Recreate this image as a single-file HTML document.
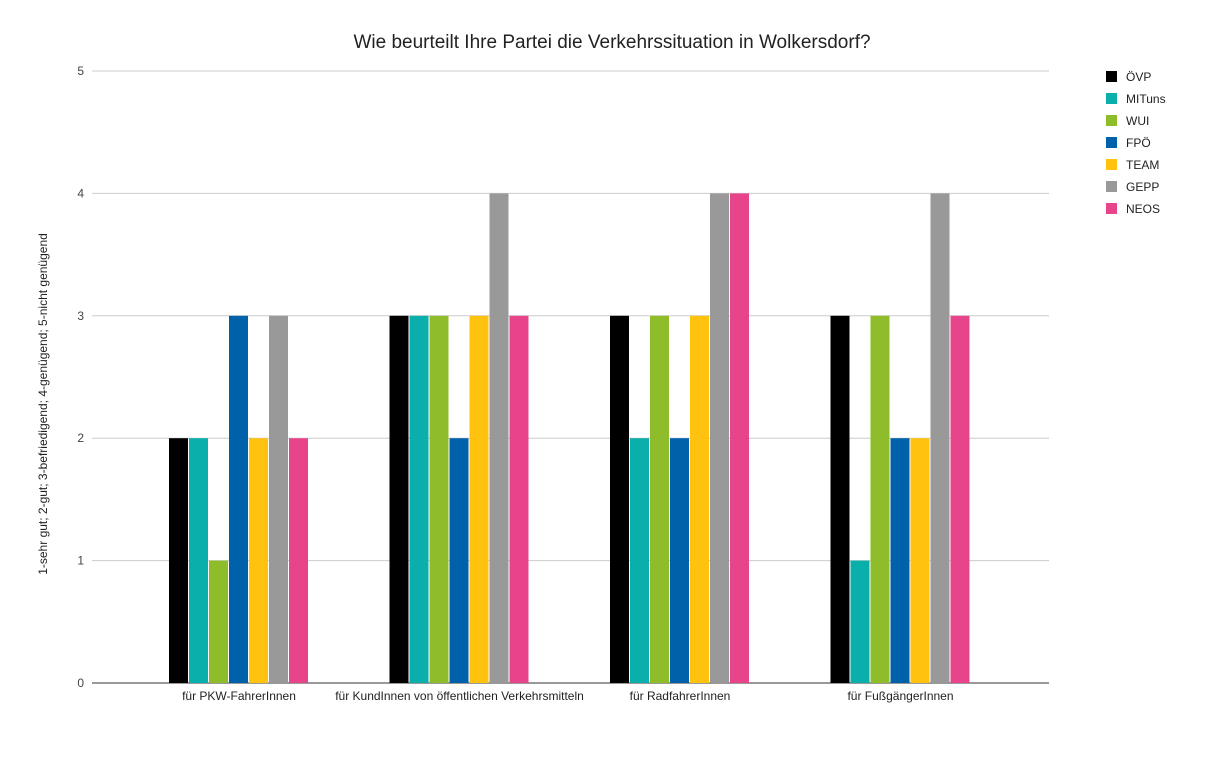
<!DOCTYPE html>
<html><head><meta charset="utf-8"><style>
body{margin:0;background:#fff;font-family:"Liberation Sans",Roboto,sans-serif;}
svg text{font-family:"Liberation Sans",sans-serif;}
</style></head><body>
<svg id="chart" width="1224" height="762">
<text x="612" y="48" text-anchor="middle" font-size="19" fill="#222">Wie beurteilt Ihre Partei die Verkehrssituation in Wolkersdorf?</text>
<text transform="translate(47,404) rotate(-90)" text-anchor="middle" font-size="12" fill="#222">1-sehr gut; 2-gut; 3-befriedigend; 4-genügend; 5-nicht genügend</text>
<g id="grid"></g><g id="bars"></g><g id="legend"></g>
</svg>
<script>
const categories=["für PKW-FahrerInnen","für KundInnen von öffentlichen Verkehrsmitteln","für RadfahrerInnen","für FußgängerInnen"];
const seriesNames=["ÖVP","MITuns","WUI","FPÖ","TEAM","GEPP","NEOS"];
const seriesColors=["#000000","#0aaeaa","#8fbc2b","#0061ab","#ffc20e","#999999","#e8448b"];
const values=[[2,3,3,3],[2,3,2,1],[1,3,3,3],[3,2,2,2],[2,3,3,2],[3,4,4,4],[2,3,4,3]];
const yTicks=[0,1,2,3,4,5];
const NS="http://www.w3.org/2000/svg";
const x0=92,x1=1049,yBase=683,yTop=71,yMax=5;
function y(v){return yBase-(yBase-yTop)*v/yMax;}
function cx(i){return 239+i*220.5;}
const barW=19,step=20;
function mk(t,a,p){const e=document.createElementNS(NS,t);for(const k in a)e.setAttribute(k,a[k]);p.appendChild(e);return e;}
const grid=document.getElementById('grid');
yTicks.forEach(t=>{
 const l=mk('line',{x1:x0,x2:x1,y1:y(t),y2:y(t),stroke:t===0?'#333':'#ccc','stroke-width':1},grid);
 
 
 const tx=mk('text',{x:84,y:y(t)+4,'text-anchor':'end','font-size':12,fill:'#444'},grid);tx.textContent=t;
 
 
});
const bars=document.getElementById('bars');
categories.forEach((c,i)=>{
 const tx=mk('text',{x:cx(i),y:700,'text-anchor':'middle','font-size':12,fill:'#222'},bars);tx.textContent=c;
 
 
 seriesNames.forEach((s,j)=>{
  const v=values[j][i];
  const left=cx(i)-3.5*step+j*step;
  const r=mk('rect',{x:left,y:y(v),width:barW,height:yBase-y(v),fill:seriesColors[j]},bars);
  
  
 });
});
const lg=document.getElementById('legend');
seriesNames.forEach((s,j)=>{
 const g=mk('g',{},lg);
 
 
 mk('rect',{x:1106,y:71+j*22,width:11,height:11,fill:seriesColors[j]},g);
 const t=mk('text',{x:1126,y:81+j*22,'font-size':12,fill:'#222'},g);t.textContent=s;
});
</script>
</body></html>
